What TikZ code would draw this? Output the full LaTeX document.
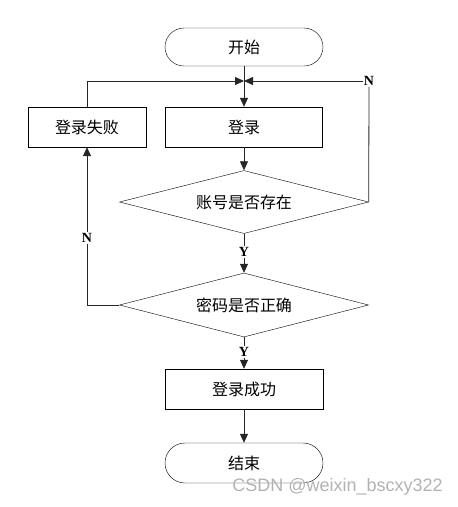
\documentclass[tikz,border=0pt]{standalone}
\usepackage{fontspec}
\setmainfont{Liberation Serif}
\newfontfamily\cjk{Noto Sans CJK SC}
\newfontfamily\wmfont{Liberation Sans}
\usetikzlibrary{shapes.geometric,arrows.meta}
\begin{document}
\begin{tikzpicture}[x=1pt,y=-1pt,
  every node/.style={font=\cjk\fontsize{16}{18}\selectfont},
  term/.style={draw,rounded corners=19pt,minimum width=158pt,minimum height=38pt,inner sep=0pt},
  proc/.style={draw,rectangle,minimum width=157pt,minimum height=40pt,inner sep=0pt},
  dec/.style={draw,diamond,aspect=3.95,minimum width=249pt,minimum height=63pt,inner sep=0pt},
  lbl/.style={font=\bfseries\fontsize{14}{16}\selectfont,fill=white,inner sep=1pt},
  line/.style={draw=black!85,line width=0.8pt},
  arr/.style={line,-{Triangle[length=9pt,width=8pt]}}]
\useasboundingbox (0,0) rectangle (458,507);
\node[term] (start) at (244,47) {开始};
\node[proc] (login) at (244,127) {登录};
\node[proc,minimum width=118pt] (fail) at (87,127) {登录失败};
\node[dec] (d1) at (244,202) {账号是否存在};
\node[lbl] (y1) at (244,252) {Y};
\node[dec,minimum height=64pt] (d2) at (244,305) {密码是否正确};
\node[lbl] (y2) at (244,352) {Y};
\node[proc,minimum width=158pt] (ok) at (244,389) {登录成功};
\node[term,minimum height=40pt,rounded corners=20pt] (end) at (244,463) {结束};
\node[lbl] (nr) at (369,81) {N};
\node[lbl] (nl) at (87,238) {N};
\coordinate (j) at (244,81);
\path[arr] (start) -- (login);
\path[arr] (fail.north) |- (j);
\path[line] (d1.east) -- (nr.south);
\path[arr] (nr.west) -- (j);
\path[arr] (login) -- (d1.north);
\path[line] (d1.south) -- (y1);
\path[arr] (y1) -- (d2.north);
\path[line] (d2.west) -| (nl);
\path[arr] (nl) -- (fail.south);
\path[line] (d2.south) -- (y2);
\path[arr] (y2) -- (ok);
\path[arr] (ok) -- (end);
\node[font=\wmfont\fontsize{18}{20}\selectfont,text=black!30,anchor=east,inner sep=0pt] (wm) at (443,487) {CSDN @weixin\_bscxy322};
\end{tikzpicture}
\end{document}
